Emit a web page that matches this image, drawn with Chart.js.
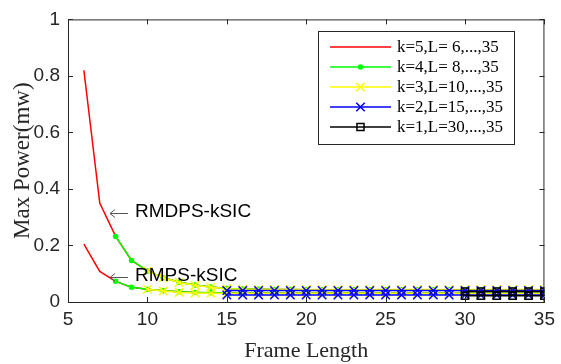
<!DOCTYPE html>
<html>
<head>
<meta charset="utf-8">
<script src="https://cdn.jsdelivr.net/npm/chart.js@4.4.0/dist/chart.umd.min.js"></script>
<style>
  html, body { margin: 0; padding: 0; background: #fff; }
  #wrap { width: 561px; height: 364px; }
</style>
</head>
<body>
<div id="wrap"><canvas id="powerChart"></canvas></div>
<script>
// frame lengths L = 6..35
const frames = [6,7,8,9,10,11,12,13,14,15,16,17,18,19,20,21,22,23,24,25,26,27,28,29,30,31,32,33,34,35];

// upper family (RMDPS-kSIC), one array per k, starting at its first L
const upperK5 = [0.82,0.35,0.232,0.147,0.11,0.086,0.07,0.06,0.053,0.048,0.046,0.045,0.044,0.044,0.043,0.043,0.043,0.043,0.043,0.043,0.043,0.043,0.043,0.043,0.043,0.043,0.043,0.043,0.043,0.043];
const upperK4 = [0.232,0.147,0.11,0.086,0.07,0.06,0.053,0.048,0.046,0.045,0.044,0.044,0.043,0.043,0.043,0.043,0.043,0.043,0.043,0.043,0.043,0.043,0.043,0.043,0.043,0.043,0.043,0.043];
const upperK3 = [0.11,0.086,0.069,0.059,0.052,0.047,0.045,0.044,0.044,0.044,0.044,0.044,0.044,0.044,0.044,0.044,0.044,0.044,0.044,0.044,0.044,0.044,0.044,0.044,0.044,0.044];
const upperK2 = [0.041,0.041,0.041,0.041,0.041,0.041,0.041,0.041,0.041,0.041,0.041,0.041,0.041,0.041,0.041,0.041,0.041,0.041,0.041,0.041,0.041];
const upperK1 = [0.037,0.037,0.037,0.037,0.037,0.037];

// lower family (RMPS-kSIC)
const lowerK5 = [0.205,0.108,0.073,0.052,0.045,0.04,0.036,0.034,0.033,0.032,0.031,0.031,0.031,0.031,0.031,0.031,0.031,0.031,0.031,0.031,0.031,0.031,0.031,0.031,0.031,0.031,0.031,0.031,0.031,0.031];
const lowerK4 = [0.073,0.052,0.045,0.04,0.036,0.034,0.033,0.032,0.031,0.031,0.031,0.031,0.031,0.031,0.031,0.031,0.031,0.031,0.031,0.031,0.031,0.031,0.031,0.031,0.031,0.031,0.031,0.031];
const lowerK3 = [0.045,0.039,0.034,0.032,0.031,0.03,0.03,0.03,0.03,0.03,0.03,0.03,0.03,0.03,0.03,0.03,0.03,0.03,0.03,0.03,0.03,0.03,0.03,0.03,0.03,0.03];
const lowerK2 = [0.025,0.025,0.025,0.025,0.025,0.025,0.025,0.025,0.025,0.025,0.025,0.025,0.025,0.025,0.025,0.025,0.025,0.025,0.025,0.025,0.025];
const lowerK1 = [0.022,0.022,0.022,0.022,0.022,0.022];

const seriesLabels = ['k=5,L= 6,...,35', 'k=4,L= 8,...,35', 'k=3,L=10,...,35', 'k=2,L=15,...,35', 'k=1,L=30,...,35'];
const startL = [6, 8, 10, 15, 30];
const colors = ['#ff0000', '#00ff00', '#ffff00', '#0000ff', '#000000'];
const markers = [false, 'circle', 'crossRot', 'crossRot', 'rect'];
const markerSize = [0, 2, 6, 6, 5];
const xTicks = [5, 10, 15, 20, 25, 30, 35];
const yTicks = [0, 0.2, 0.4, 0.6, 0.8, 1];

const upper = [upperK5, upperK4, upperK3, upperK2, upperK1];
const lower = [lowerK5, lowerK4, lowerK3, lowerK2, lowerK1];

function toPoints(vals, L0) {
  const xs = frames.filter(f => f >= L0);
  return vals.map((v, i) => ({ x: xs[i], y: v }));
}

function makeSet(i, vals, inLegend) {
  return {
    label: seriesLabels[i],
    data: toPoints(vals, startL[i]),
    borderColor: colors[i],
    backgroundColor: colors[i],
    borderWidth: 1.5,
    pointStyle: markers[i],
    pointRadius: markerSize[i],
    pointBorderColor: colors[i],
    pointBackgroundColor: i === 1 ? colors[i] : 'rgba(0,0,0,0)',
    pointBorderWidth: 1.5,
    order: 5 - i,   // black on top, red at the bottom
    showInLegend: inLegend
  };
}

const datasets = [];
for (let i = 0; i < 5; i++) {
  datasets.push(makeSet(i, upper[i], true));
  datasets.push(makeSet(i, lower[i], false));
}

const axisColor = '#262626';

// MATLAB style box with inward ticks, arrow labels and legend box
const decorations = {
  id: 'decorations',
  afterDraw(chart) {
    const ctx = chart.ctx;
    const a = chart.chartArea;
    const xs = chart.scales.x, ys = chart.scales.y;
    ctx.save();
    ctx.strokeStyle = axisColor;
    ctx.lineWidth = 1;
    ctx.strokeRect(a.left + 0.5, a.top + 0.5, a.right - a.left - 1, a.bottom - a.top);
    const t = 5;
    ctx.beginPath();
    xTicks.forEach(v => {
      const px = Math.round(xs.getPixelForValue(v)) + 0.5;
      ctx.moveTo(px, a.bottom); ctx.lineTo(px, a.bottom - t);
      ctx.moveTo(px, a.top); ctx.lineTo(px, a.top + t);
    });
    yTicks.forEach(v => {
      const py = Math.round(ys.getPixelForValue(v)) + 0.5;
      ctx.moveTo(a.left, py); ctx.lineTo(a.left + t, py);
      ctx.moveTo(a.right, py); ctx.lineTo(a.right - t, py);
    });
    ctx.stroke();

    // annotations with arrows
    ctx.font = '19px "Liberation Sans", Arial, sans-serif';
    ctx.textBaseline = 'middle';
    const notes = [['RMDPS-kSIC', 212, 213], ['RMPS-kSIC', 276, 277]];
    notes.forEach(n => {
      ctx.strokeStyle = '#555';
      ctx.lineWidth = 1;
      ctx.beginPath();
      ctx.moveTo(110, n[2] + 0.5); ctx.lineTo(128, n[2] + 0.5);
      ctx.moveTo(110, n[2] + 0.5); ctx.lineTo(115, n[2] - 3.5);
      ctx.moveTo(110, n[2] + 0.5); ctx.lineTo(115, n[2] + 4.5);
      ctx.stroke();
      ctx.fillStyle = '#000';
      ctx.fillText(n[0], 135, n[1]);
    });

    // legend box
    const lx = 318, ly = 31, lw = 196, lh = 113;
    ctx.fillStyle = '#fff';
    ctx.fillRect(lx, ly, lw, lh);
    ctx.strokeStyle = axisColor;
    ctx.lineWidth = 1;
    ctx.strokeRect(lx + 0.5, ly + 0.5, lw, lh);
    ctx.font = '17px "Liberation Serif", "Times New Roman", serif';
    chart.data.datasets.forEach((ds, di) => {
      if (!ds.showInLegend) return;
      const i = di / 2;
      const y = 47 + i * 20;
      ctx.strokeStyle = ds.borderColor;
      ctx.lineWidth = 1.5;
      ctx.beginPath();
      ctx.moveTo(330, y); ctx.lineTo(391, y);
      ctx.stroke();
      if (ds.pointStyle) {
        ctx.fillStyle = ds.pointBackgroundColor;
        ctx.strokeStyle = ds.pointBorderColor;
        ctx.lineWidth = 1.5;
        Chart.helpers.drawPoint(ctx, {
          pointStyle: ds.pointStyle, radius: ds.pointRadius, borderWidth: 1.5, rotation: 0
        }, 360.5, y);
      }
      ctx.fillStyle = '#000';
      ctx.fillText(ds.label, 397, y + 1);
    });
    ctx.restore();
  }
};

const ctx = document.getElementById('powerChart').getContext('2d');
const powerChart = new Chart(ctx, {
  type: 'line',
  data: { datasets: datasets },
  options: {
    responsive: true,
    maintainAspectRatio: false,
    animation: false,
    layout: { padding: { top: 15, right: 9, left: 0, bottom: 0 } },
    plugins: {
      legend: { display: false },
      tooltip: { enabled: false }
    },
    scales: {
      x: {
        type: 'linear',
        min: 5,
        max: 35,
        afterBuildTicks: s => { s.ticks = xTicks.map(v => ({ value: v })); },
        afterFit: s => { s.height = 62; },
        grid: { display: false, drawTicks: false },
        border: { color: axisColor },
        ticks: {
          color: '#262626',
          font: { family: '"Liberation Sans", Arial, sans-serif', size: 19 },
          padding: 6,
          maxRotation: 0
        },
        title: {
          display: true,
          text: 'Frame Length',
          color: '#262626',
          font: { family: '"Liberation Serif", "Times New Roman", serif', size: 22 },
          padding: 0
        }
      },
      y: {
        min: 0,
        max: 1,
        afterBuildTicks: s => { s.ticks = yTicks.map(v => ({ value: v })); },
        afterFit: s => { s.width = 68; },
        grid: { display: false, drawTicks: false },
        border: { color: axisColor },
        ticks: {
          color: '#262626',
          font: { family: '"Liberation Sans", Arial, sans-serif', size: 19 },
          padding: 8,
          callback: v => String(Math.round(v * 10) / 10)
        },
        title: {
          display: true,
          text: 'Max Power(mw)',
          color: '#262626',
          font: { family: '"Liberation Serif", "Times New Roman", serif', size: 23 },
          padding: { top: 9, bottom: 0 }
        }
      }
    }
  },
  plugins: [decorations]
});
</script>
</body>
</html>
